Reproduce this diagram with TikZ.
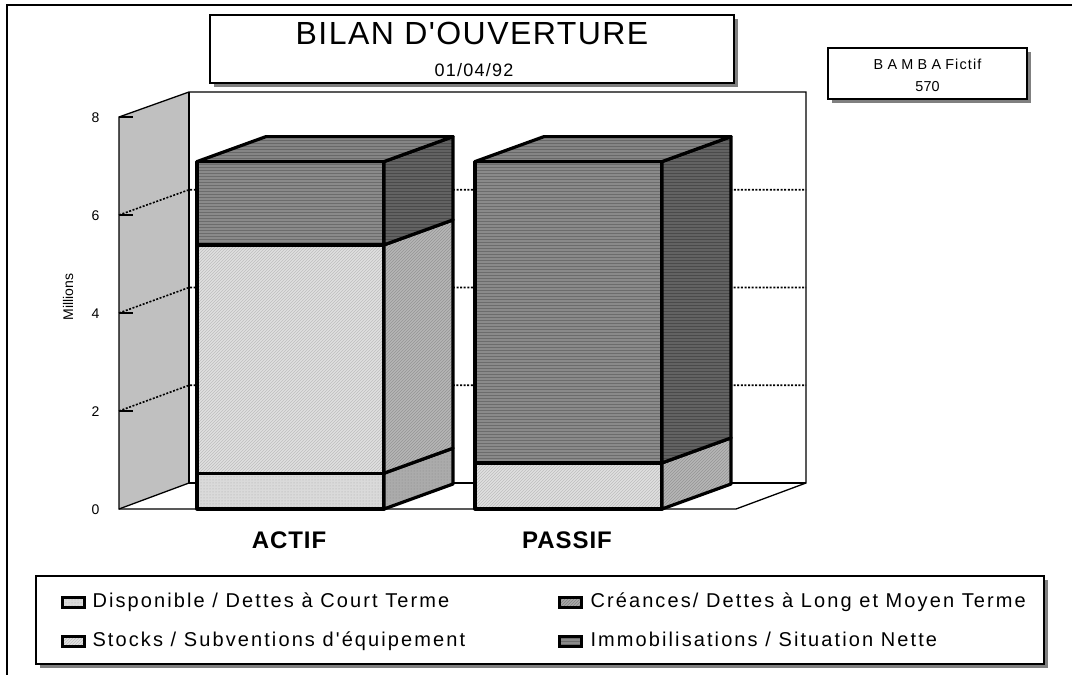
\documentclass[tikz,border=0pt]{standalone}
\usepackage{fontspec}
\setmainfont{Liberation Sans}
\newfontfamily\titlefont[LetterSpace=4.5]{Liberation Sans}
\newfontfamily\datefont[LetterSpace=7]{Liberation Sans}
\newfontfamily\legfont[LetterSpace=10.5]{Liberation Sans}
\newfontfamily\widefont[LetterSpace=30]{Liberation Sans}
\newfontfamily\midfont[LetterSpace=8]{Liberation Sans}
\newfontfamily\catfont[LetterSpace=4]{Liberation Sans}
\usetikzlibrary{patterns}
\definecolor{imF}{HTML}{8A8A8A}\definecolor{imFp}{HTML}{6C6C6C}
\definecolor{imS}{HTML}{626262}\definecolor{imSp}{HTML}{4A4A4A}
\definecolor{imT}{HTML}{858585}\definecolor{imTp}{HTML}{686868}
\definecolor{stF}{HTML}{E0E0E0}\definecolor{stFp}{HTML}{BDBDBD}
\definecolor{stS}{HTML}{B6B6B6}\definecolor{stSp}{HTML}{959595}
\definecolor{diF}{HTML}{DADADA}\definecolor{diFp}{HTML}{A8A8A8}
\definecolor{diS}{HTML}{ABABAB}\definecolor{diSp}{HTML}{888888}
\definecolor{crF}{HTML}{A8A8A8}\definecolor{crFp}{HTML}{808080}
\definecolor{wallc}{HTML}{C0C0C0}
\definecolor{shadowc}{HTML}{808080}
\newcommand\barseg[6]{%
  \path[barline, #5] (#1,#3) rectangle (#2,#4);
  \path[barline, #6] (#2,#3) -- (#2+69,#3-25) -- (#2+69,#4-25) -- (#2,#4) -- cycle;
}
\begin{document}
\begin{tikzpicture}[x=1pt,y=-1pt,
  framel/.style={line width=1.4pt},
  box/.style={draw, line width=2pt, fill=white, inner sep=0pt},
  barline/.style={draw, line width=3.2pt, line join=round},
  face/.style n args={3}{preaction={fill=#1}, preaction={pattern=#3, pattern color=#2}},
  gridl/.style={line width=1.6pt, dash pattern=on 2pt off 1.6pt},
  wall/.style={line width=1.3pt},
  tickl/.style={line width=1.3pt},
  swatch/.style={draw, line width=3pt, minimum width=22pt, minimum height=10pt, inner sep=0pt},
  ylab/.style={anchor=base east, font=\fontsize{14}{16}\selectfont},
  legtext/.style={anchor=base west, font=\legfont\fontsize{20}{24}\selectfont},
  catlab/.style={anchor=base, font=\catfont\bfseries\fontsize{24}{28}\selectfont}
]
\useasboundingbox (0,0) rectangle (1072,675);
% outer frame
\draw[framel] (1072,5) -- (7,5) -- (7,675);
% title
\fill[shadowc] (214,19) rectangle (738,87);
\node[box, minimum width=524pt, minimum height=68pt] (titlebox) at (472,49) {};
\node[anchor=base, font=\titlefont\fontsize{32}{38}\selectfont] (title) at (472,44) {BILAN D'OUVERTURE};
\node[anchor=base, font=\datefont\fontsize{18}{22}\selectfont] (date) at (474,76) {01/04/92};
% BAMBA box
\fill[shadowc] (832,52) rectangle (1031,103);
\node[box, minimum width=199pt, minimum height=51pt] (bbox) at (927.5,73.5) {};
\node[anchor=base, font=\fontsize{14.4}{17}\selectfont] (bname) at (927.5,69.3) {{\widefont BAMBA} {\midfont Fictif}};
\node[anchor=base, font=\fontsize{14.4}{17}\selectfont] (bnum) at (927.5,91) {570};
% side wall
\fill[wallc] (119,509) -- (119,117) -- (189,92) -- (189,483) -- cycle;
% gridlines
\foreach \v in {2,4,6} {
  \draw[gridl] (119,{509-49*\v}) -- (189,{483-48.875*\v}) -- (806,{483-48.875*\v});
}
% wall outlines
\draw[wall] (119,509) -- (119,117) -- (189,92) -- (806,92) -- (806,483) -- (736,509) -- cycle;
\draw[wall] (189,92) -- (189,483) -- (806,483);
\draw[wall] (119,509) -- (189,483);
\foreach \v in {2,4,6,8} { \draw[tickl] (119,{509-49*\v}) -- ++(14,0); }
% axis labels
\foreach \v in {0,2,4,6,8} { \node[ylab] (y\v) at (103,{514-49*\v}) {\v}; }
\node[rotate=90, font=\fontsize{14}{16}\selectfont] (millions) at (68,297) {Millions};
% ACTIF bar
\barseg{197}{384}{509}{473.2}{face={diF}{diFp}{dots}}{face={diS}{diSp}{dots}}
\barseg{197}{384}{473.2}{244.9}{face={stF}{stFp}{north east lines}}{face={stS}{stSp}{north east lines}}
\barseg{197}{384}{244.9}{161.6}{face={imF}{imFp}{horizontal lines}}{face={imS}{imSp}{horizontal lines}}
\path[barline, face={imT}{imTp}{horizontal lines}] (197,161.6) -- (384,161.6) -- (453,136.6) -- (266,136.6) -- cycle;
% PASSIF bar
\barseg{475}{662}{509}{462.9}{face={stF}{stFp}{north east lines}}{face={stS}{stSp}{north east lines}}
\barseg{475}{662}{462.9}{161.6}{face={imF}{imFp}{horizontal lines}}{face={imS}{imSp}{horizontal lines}}
\path[barline, face={imT}{imTp}{horizontal lines}] (475,161.6) -- (662,161.6) -- (731,136.6) -- (544,136.6) -- cycle;
% category labels
\node[catlab] (actif) at (289,548) {ACTIF};
\node[catlab] (passif) at (567,548) {PASSIF};
% legend
\fill[shadowc] (40,580) rectangle (1048,668);
\node[box, minimum width=1008pt, minimum height=88pt] (legend) at (540,620) {};
\node[swatch, face={diF}{diFp}{dots}] (sw1) at (73,602) {};
\node[legtext] (lt1) at (89,607.5) {Disponible / Dettes à Court Terme};
\node[swatch, face={stF}{stFp}{north east lines}] (sw2) at (73,641) {};
\node[legtext] (lt2) at (89,646.5) {Stocks / Subventions d'équipement};
\node[swatch, face={crF}{crFp}{north east lines}] (sw3) at (570,602) {};
\node[legtext] (lt3) at (587,607.5) {Créances/ Dettes à Long et Moyen Terme};
\node[swatch, face={imF}{imFp}{horizontal lines}] (sw4) at (570,641) {};
\node[legtext] (lt4) at (587,646.5) {Immobilisations / Situation Nette};
\end{tikzpicture}
\end{document}
